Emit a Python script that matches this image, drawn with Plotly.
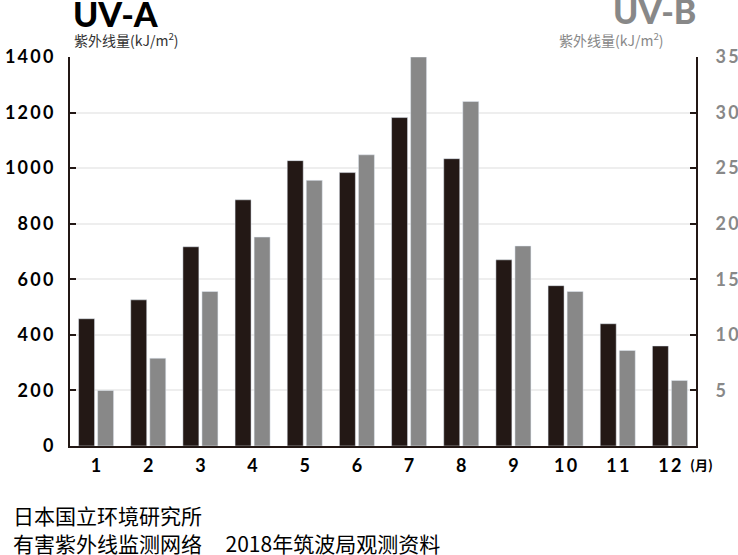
import plotly.graph_objects as go

months = [1, 2, 3, 4, 5, 6, 7, 8, 9, 10, 11, 12]
month_labels = ["1", "2", "3", "4", "5", "6", "7", "8", "9", "10", "11", "12"]
uva = [458, 526, 717, 886, 1027, 984, 1182, 1034, 670, 577, 440, 360]
uvb = [5.0, 7.9, 13.9, 18.8, 23.9, 26.2, 35.0, 31.0, 18.0, 13.9, 8.6, 5.9]
left_ticks = [0, 200, 400, 600, 800, 1000, 1200, 1400]
right_ticks = [5, 10, 15, 20, 25, 30, 35]

DARK = "#231815"
GRAY = "#888888"
NUM_FONT = "Lato"
CJK = "Noto Sans CJK SC"
SP = "\u2009"


def spaced(s):
    return SP.join(str(s))


fig = go.Figure()
fig.add_trace(go.Bar(x=months, y=uva, marker_color=DARK, offsetgroup="a",
                     yaxis="y", showlegend=False))
fig.add_trace(go.Bar(x=months, y=uvb, marker_color=GRAY, offsetgroup="b",
                     yaxis="y2", showlegend=False))

L, R, T, B = 70, 42, 57, 109
W, H = 738, 555
pw, ph = W - L - R, H - T - B


def px_x(p):
    return (p - L) / pw


def px_y(p):
    return (H - B - p) / ph


fig.update_layout(
    width=W, height=H,
    margin=dict(l=L, r=R, t=T, b=B, pad=0, autoexpand=False),
    paper_bgcolor="white", plot_bgcolor="white",
    barmode="group", bargap=0.27, bargroupgap=0.16,
    xaxis=dict(
        range=[0.5, 12.5], tickvals=months, ticktext=[spaced(m) for m in month_labels],
        showgrid=False, zeroline=False, showline=True, linecolor=DARK, linewidth=2,
        ticks="", tickfont=dict(family=NUM_FONT, size=18, color="black", weight="bold"),
        ticklabelstandoff=2, automargin=False,
    ),
    yaxis=dict(
        range=[0, 1400], tickvals=left_ticks, ticktext=[spaced(v) for v in left_ticks],
        showgrid=True, gridcolor="#eeeeee", gridwidth=2, zeroline=False,
        showline=True, linecolor=DARK, linewidth=2,
        ticks="inside", ticklen=6, tickwidth=2, tickcolor=DARK,
        tickfont=dict(family=NUM_FONT, size=18, color="black", weight="bold"),
        ticklabelstandoff=11, automargin=False,
    ),
    yaxis2=dict(
        range=[0, 35], tickvals=right_ticks, ticktext=[spaced(v) for v in right_ticks],
        overlaying="y", side="right",
        showgrid=False, zeroline=False,
        showline=True, linecolor=DARK, linewidth=2,
        ticks="inside", ticklen=6, tickwidth=2, tickcolor=DARK,
        tickfont=dict(family=NUM_FONT, size=18, color=GRAY, weight="bold"),
        ticklabelstandoff=14, automargin=False,
    ),
)

ann = []
ann.append(dict(text="UV-A", x=px_x(71), y=px_y(14), xanchor="left", yanchor="middle",
                font=dict(family=NUM_FONT, size=34, color="black", weight=900)))
ann.append(dict(text="UV-B", x=px_x(698), y=px_y(10), xanchor="right", yanchor="middle",
                font=dict(family=NUM_FONT, size=34, color=GRAY, weight=900)))
ann.append(dict(text="紫外线量(kJ/m<sup>2</sup>)", x=px_x(72), y=px_y(40), xanchor="left", yanchor="middle",
                font=dict(family=CJK, size=14, color="#333333")))
ann.append(dict(text="紫外线量(kJ/m<sup>2</sup>)", x=px_x(666), y=px_y(40), xanchor="right", yanchor="middle",
                font=dict(family=CJK, size=14, color=GRAY)))
ann.append(dict(text="(月)", x=px_x(688), y=px_y(464), xanchor="left", yanchor="middle",
                font=dict(family=CJK, size=13, color="black", weight="bold")))
ann.append(dict(text="日本国立环境研究所", x=px_x(11), y=px_y(515), xanchor="left", yanchor="middle",
                font=dict(family=CJK, size=21, color="black")))
ann.append(dict(text="有害紫外线监测网络     2018年筑波局观测资料", x=px_x(11), y=px_y(543), xanchor="left", yanchor="middle",
                font=dict(family=CJK, size=21, color="black")))
for a in ann:
    a.update(xref="paper", yref="paper", showarrow=False)
fig.update_layout(annotations=ann)

fig.write_html("out.html")
